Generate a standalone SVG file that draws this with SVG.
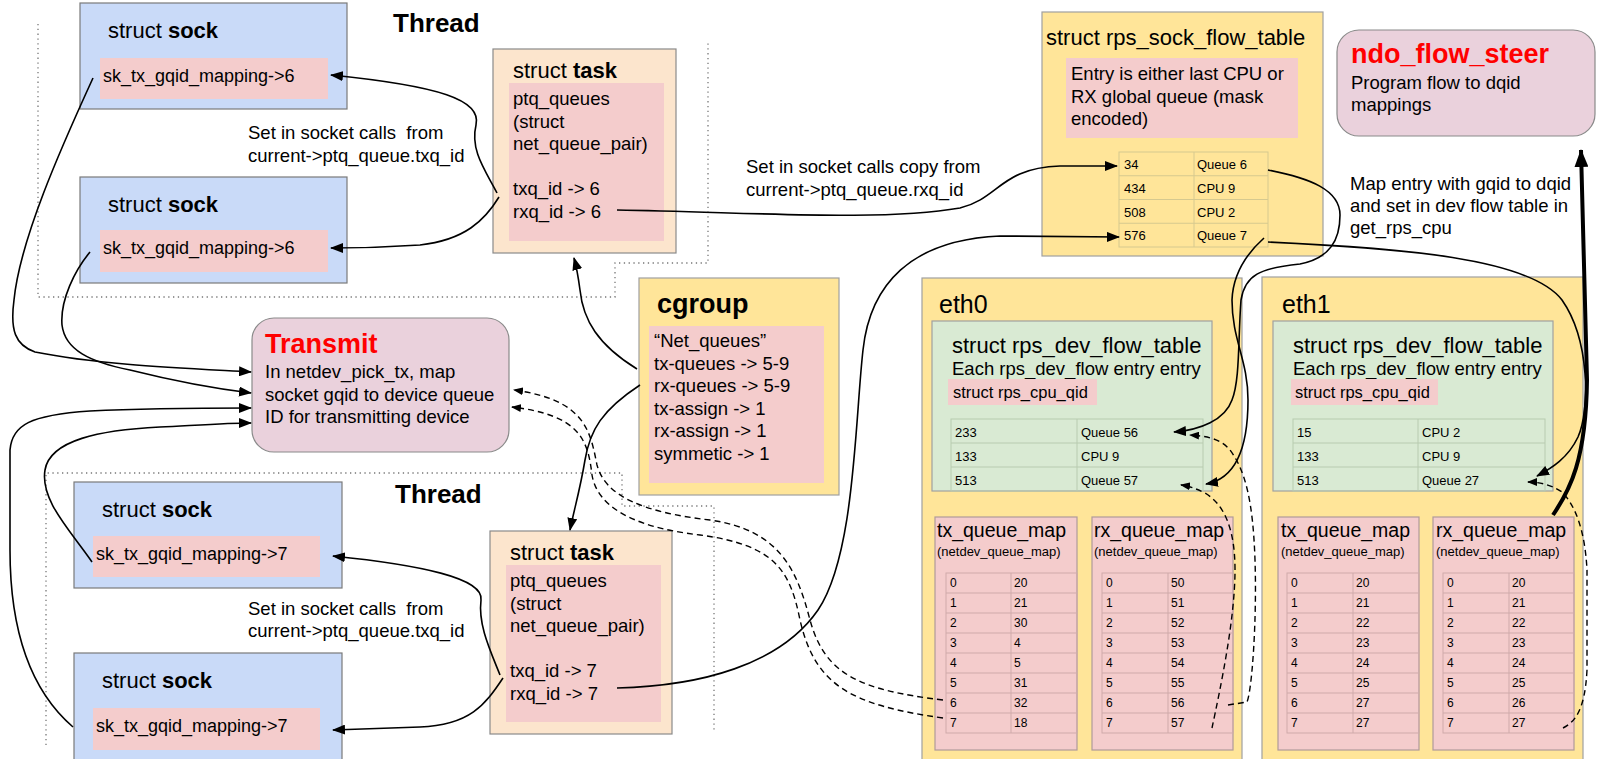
<svg xmlns="http://www.w3.org/2000/svg" width="1597" height="759" viewBox="0 0 1597 759">
<defs>
<style>
text{font-family:"Liberation Sans",Arial,sans-serif;fill:#000}
.b{font-size:18.5px}
.sk{font-size:18px}
.ttl{font-size:22px}
.bold{font-weight:bold}
.red{fill:#ff0000;font-weight:bold;font-size:27px}
.c13{font-size:13px}
.c12{font-size:12px}
.sock{fill:#c9daf8;stroke:#7a7a7a;stroke-width:1.2}
.pink{fill:#f4cccc}
.task{fill:#fce5cd;stroke:#8a8a8a;stroke-width:1.2}
.yel{fill:#ffe599;stroke:#a0a0a0;stroke-width:1.2}
.grn{fill:#d9ead3;stroke:#a0a0a0;stroke-width:1.2}
.mauve{fill:#ead1dc;stroke:#8a8a8a;stroke-width:1.2}
.map{fill:#f4cccc;stroke:#b09a9a;stroke-width:1.2}
.ty{fill:none;stroke:#d6c98f;stroke-width:1}
.tg{fill:none;stroke:#b8cbb0;stroke-width:1}
.tp{fill:none;stroke:#cfaaaa;stroke-width:1}
.dot{fill:none;stroke:#777;stroke-width:1.3;stroke-dasharray:1.3,3.5}
.ln{fill:none;stroke:#000;stroke-width:1.6}
.dash{fill:none;stroke:#000;stroke-width:1.4;stroke-dasharray:6,4}
.pre{white-space:pre}
</style>
<marker id="ah" markerUnits="userSpaceOnUse" markerWidth="13" markerHeight="10" refX="12" refY="5" orient="auto"><path d="M0,0 L13,5 L0,10 z" fill="#000"/></marker>
<marker id="ahs" markerUnits="userSpaceOnUse" markerWidth="10" markerHeight="8" refX="9" refY="4" orient="auto"><path d="M0,0 L10,4 L0,8 z" fill="#000"/></marker>
<marker id="ahb" markerUnits="userSpaceOnUse" markerWidth="18" markerHeight="14" refX="17" refY="7" orient="auto"><path d="M0,0 L18,7 L0,14 z" fill="#000"/></marker>
</defs>
<rect width="1597" height="759" fill="#fff"/>

<g id="thread-areas">
<polyline class="dot" points="38,24 38,297 615,297 615,263 708,263 708,40"/>
<polyline class="dot" points="46,745 46,473 622,473 622,506 714,506 714,730"/>
<text x="393" y="32" class="bold" font-size="26">Thread</text>
<text x="395" y="503" class="bold" font-size="26">Thread</text>
</g>

<g id="sock1">
<rect class="sock" x="80" y="3" width="267" height="106"/>
<rect class="pink" x="100" y="58" width="228" height="41"/>
<text x="108" y="38" class="ttl">struct <tspan class="bold">sock</tspan></text>
<text x="103" y="82" class="sk">sk_tx_gqid_mapping-&gt;6</text>
</g>
<g id="sock2">
<rect class="sock" x="80" y="177" width="267" height="106"/>
<rect class="pink" x="100" y="230" width="228" height="42"/>
<text x="108" y="212" class="ttl">struct <tspan class="bold">sock</tspan></text>
<text x="103" y="254" class="sk">sk_tx_gqid_mapping-&gt;6</text>
</g>
<g id="sock3">
<rect class="sock" x="74" y="482" width="268" height="106"/>
<rect class="pink" x="93" y="536" width="227" height="41"/>
<text x="102" y="517" class="ttl">struct <tspan class="bold">sock</tspan></text>
<text x="96" y="560" class="sk">sk_tx_gqid_mapping-&gt;7</text>
</g>
<g id="sock4">
<rect class="sock" x="74" y="653" width="268" height="120"/>
<rect class="pink" x="93" y="708" width="227" height="42"/>
<text x="102" y="688" class="ttl">struct <tspan class="bold">sock</tspan></text>
<text x="96" y="732" class="sk">sk_tx_gqid_mapping-&gt;7</text>
</g>

<g id="task1">
<rect class="task" x="493" y="49" width="183" height="204"/>
<rect class="pink" x="509" y="83" width="155" height="158"/>
<text x="513" y="78" class="ttl">struct <tspan class="bold">task</tspan></text>
<text class="b"><tspan x="513" y="105">ptq_queues</tspan><tspan x="513" y="127.5">(struct</tspan><tspan x="513" y="150">net_queue_pair)</tspan><tspan x="513" y="195">txq_id -&gt; 6</tspan><tspan x="513" y="217.5">rxq_id -&gt; 6</tspan></text>
</g>
<g id="task2">
<rect class="task" x="490" y="531" width="182" height="203"/>
<rect class="pink" x="506" y="565" width="155" height="157"/>
<text x="510" y="560" class="ttl">struct <tspan class="bold">task</tspan></text>
<text class="b"><tspan x="510" y="587">ptq_queues</tspan><tspan x="510" y="609.5">(struct</tspan><tspan x="510" y="632">net_queue_pair)</tspan><tspan x="510" y="677">txq_id -&gt; 7</tspan><tspan x="510" y="699.5">rxq_id -&gt; 7</tspan></text>
</g>

<g id="labels">
<text class="b pre"><tspan x="248" y="139">Set in socket calls  from</tspan><tspan x="248" y="161.5">current-&gt;ptq_queue.txq_id</tspan></text>
<text class="b pre"><tspan x="248" y="615">Set in socket calls  from</tspan><tspan x="248" y="637">current-&gt;ptq_queue.txq_id</tspan></text>
<text class="b"><tspan x="746" y="173">Set in socket calls copy from</tspan><tspan x="746" y="196">current-&gt;ptq_queue.rxq_id</tspan></text>
<text class="b"><tspan x="1350" y="190">Map entry with gqid to dqid</tspan><tspan x="1350" y="212">and set in dev flow table in</tspan><tspan x="1350" y="234">get_rps_cpu</tspan></text>
</g>

<g id="cgroup">
<rect class="yel" x="639" y="278" width="200" height="217"/>
<rect class="pink" x="649" y="326" width="175" height="157"/>
<text x="657" y="313" class="bold" font-size="27">cgroup</text>
<text class="b"><tspan x="654" y="347">“Net_queues”</tspan><tspan x="654" y="369.5">tx-queues -&gt; 5-9</tspan><tspan x="654" y="392">rx-queues -&gt; 5-9</tspan><tspan x="654" y="414.5">tx-assign -&gt; 1</tspan><tspan x="654" y="437">rx-assign -&gt; 1</tspan><tspan x="654" y="459.5">symmetic -&gt; 1</tspan></text>
</g>

<g id="transmit">
<rect class="mauve" x="252" y="318" width="257" height="134" rx="22"/>
<text x="265" y="353" class="red">Transmit</text>
<text class="b"><tspan x="265" y="378">In netdev_pick_tx, map</tspan><tspan x="265" y="400.5">socket gqid to device queue</tspan><tspan x="265" y="423">ID for transmitting device</tspan></text>
</g>

<g id="ndo_flow_steer">
<rect class="mauve" x="1337" y="30" width="258" height="106" rx="22"/>
<text x="1351" y="63" class="red">ndo_flow_steer</text>
<text class="b"><tspan x="1351" y="89">Program flow to dqid</tspan><tspan x="1351" y="111">mappings</tspan></text>
</g>

<g id="rps_sock_flow_table">
<rect class="yel" x="1042" y="12" width="281" height="244"/>
<text x="1046" y="45" class="ttl">struct rps_sock_flow_table</text>
<rect class="pink" x="1066" y="58" width="232" height="80"/>
<text class="b"><tspan x="1071" y="80">Entry is either last CPU or</tspan><tspan x="1071" y="102.5">RX global queue (mask</tspan><tspan x="1071" y="125">encoded)</tspan></text>
<rect class="ty" x="1119" y="152" width="149" height="95"/>
<path class="ty" d="M1194,152V247M1119,175.75H1268M1119,199.5H1268M1119,223.25H1268"/>
<text class="c13"><tspan x="1124" y="169">34</tspan><tspan x="1197" y="169">Queue 6</tspan><tspan x="1124" y="192.75">434</tspan><tspan x="1197" y="192.75">CPU 9</tspan><tspan x="1124" y="216.5">508</tspan><tspan x="1197" y="216.5">CPU 2</tspan><tspan x="1124" y="240.25">576</tspan><tspan x="1197" y="240.25">Queue 7</tspan></text>
</g>

<g id="eth0">
<rect class="yel" x="922" y="278" width="320" height="490"/>
<text x="939" y="313" font-size="25">eth0</text>
<rect class="grn" x="932" y="321" width="280" height="170"/>
<text x="952" y="353" class="ttl">struct rps_dev_flow_table</text>
<text x="952" y="375" class="b">Each rps_dev_flow entry entry</text>
<rect class="pink" x="948" y="379" width="149" height="26"/>
<text x="953" y="398" font-size="16.5">struct rps_cpu_qid</text>
<rect class="tg" x="951" y="419" width="252" height="72"/>
<path class="tg" d="M1077,419V491M951,443H1203M951,467H1203"/>
<text class="c13"><tspan x="955" y="437">233</tspan><tspan x="1081" y="437">Queue 56</tspan><tspan x="955" y="461">133</tspan><tspan x="1081" y="461">CPU 9</tspan><tspan x="955" y="485">513</tspan><tspan x="1081" y="485">Queue 57</tspan></text>
<g id="eth0-tx">
<rect class="map" x="935" y="517" width="142" height="233"/>
<text x="937" y="537" font-size="19.5">tx_queue_map</text>
<text x="937" y="556" class="c13">(netdev_queue_map)</text>
<rect class="tp" x="946" y="573" width="131" height="160"/>
<path class="tp" d="M1011,573V733M946,593H1077M946,613H1077M946,633H1077M946,653H1077M946,673H1077M946,693H1077M946,713H1077"/>
<text class="c12"><tspan x="950" y="587">0</tspan><tspan x="1014" y="587">20</tspan><tspan x="950" y="607">1</tspan><tspan x="1014" y="607">21</tspan><tspan x="950" y="627">2</tspan><tspan x="1014" y="627">30</tspan><tspan x="950" y="647">3</tspan><tspan x="1014" y="647">4</tspan><tspan x="950" y="667">4</tspan><tspan x="1014" y="667">5</tspan><tspan x="950" y="687">5</tspan><tspan x="1014" y="687">31</tspan><tspan x="950" y="707">6</tspan><tspan x="1014" y="707">32</tspan><tspan x="950" y="727">7</tspan><tspan x="1014" y="727">18</tspan></text>
</g>
<g id="eth0-rx">
<rect class="map" x="1092" y="517" width="141" height="233"/>
<text x="1094" y="537" font-size="19.5">rx_queue_map</text>
<text x="1094" y="556" class="c13">(netdev_queue_map)</text>
<rect class="tp" x="1102" y="573" width="131" height="160"/>
<path class="tp" d="M1168,573V733M1102,593H1233M1102,613H1233M1102,633H1233M1102,653H1233M1102,673H1233M1102,693H1233M1102,713H1233"/>
<text class="c12"><tspan x="1106" y="587">0</tspan><tspan x="1171" y="587">50</tspan><tspan x="1106" y="607">1</tspan><tspan x="1171" y="607">51</tspan><tspan x="1106" y="627">2</tspan><tspan x="1171" y="627">52</tspan><tspan x="1106" y="647">3</tspan><tspan x="1171" y="647">53</tspan><tspan x="1106" y="667">4</tspan><tspan x="1171" y="667">54</tspan><tspan x="1106" y="687">5</tspan><tspan x="1171" y="687">55</tspan><tspan x="1106" y="707">6</tspan><tspan x="1171" y="707">56</tspan><tspan x="1106" y="727">7</tspan><tspan x="1171" y="727">57</tspan></text>
</g>
</g>

<g id="eth1">
<rect class="yel" x="1262" y="277" width="321" height="491"/>
<text x="1282" y="313" font-size="25">eth1</text>
<rect class="grn" x="1273" y="321" width="280" height="170"/>
<text x="1293" y="353" class="ttl">struct rps_dev_flow_table</text>
<text x="1293" y="375" class="b">Each rps_dev_flow entry entry</text>
<rect class="pink" x="1291" y="379" width="147" height="26"/>
<text x="1295" y="398" font-size="16.5">struct rps_cpu_qid</text>
<rect class="tg" x="1293" y="419" width="252" height="72"/>
<path class="tg" d="M1418,419V491M1293,443H1545M1293,467H1545"/>
<text class="c13"><tspan x="1297" y="437">15</tspan><tspan x="1422" y="437">CPU 2</tspan><tspan x="1297" y="461">133</tspan><tspan x="1422" y="461">CPU 9</tspan><tspan x="1297" y="485">513</tspan><tspan x="1422" y="485">Queue 27</tspan></text>
<g id="eth1-tx">
<rect class="map" x="1278" y="517" width="141" height="233"/>
<text x="1281" y="537" font-size="19.5">tx_queue_map</text>
<text x="1281" y="556" class="c13">(netdev_queue_map)</text>
<rect class="tp" x="1287" y="573" width="132" height="160"/>
<path class="tp" d="M1353,573V733M1287,593H1419M1287,613H1419M1287,633H1419M1287,653H1419M1287,673H1419M1287,693H1419M1287,713H1419"/>
<text class="c12"><tspan x="1291" y="587">0</tspan><tspan x="1356" y="587">20</tspan><tspan x="1291" y="607">1</tspan><tspan x="1356" y="607">21</tspan><tspan x="1291" y="627">2</tspan><tspan x="1356" y="627">22</tspan><tspan x="1291" y="647">3</tspan><tspan x="1356" y="647">23</tspan><tspan x="1291" y="667">4</tspan><tspan x="1356" y="667">24</tspan><tspan x="1291" y="687">5</tspan><tspan x="1356" y="687">25</tspan><tspan x="1291" y="707">6</tspan><tspan x="1356" y="707">27</tspan><tspan x="1291" y="727">7</tspan><tspan x="1356" y="727">27</tspan></text>
</g>
<g id="eth1-rx">
<rect class="map" x="1433" y="517" width="141" height="233"/>
<text x="1436" y="537" font-size="19.5">rx_queue_map</text>
<text x="1436" y="556" class="c13">(netdev_queue_map)</text>
<rect class="tp" x="1443" y="573" width="131" height="160"/>
<path class="tp" d="M1509,573V733M1443,593H1574M1443,613H1574M1443,633H1574M1443,653H1574M1443,673H1574M1443,693H1574M1443,713H1574"/>
<text class="c12"><tspan x="1447" y="587">0</tspan><tspan x="1512" y="587">20</tspan><tspan x="1447" y="607">1</tspan><tspan x="1512" y="607">21</tspan><tspan x="1447" y="627">2</tspan><tspan x="1512" y="627">22</tspan><tspan x="1447" y="647">3</tspan><tspan x="1512" y="647">23</tspan><tspan x="1447" y="667">4</tspan><tspan x="1512" y="667">24</tspan><tspan x="1447" y="687">5</tspan><tspan x="1512" y="687">25</tspan><tspan x="1447" y="707">6</tspan><tspan x="1512" y="707">26</tspan><tspan x="1447" y="727">7</tspan><tspan x="1512" y="727">27</tspan></text>
</g>
</g>

<g id="connectors">
<path class="ln" marker-end="url(#ah)" d="M497,193 C485,170 470,150 476,125 C482,100 440,86 331,75"/>
<path class="ln" marker-end="url(#ah)" d="M499,197 C485,220 465,240 420,245 C390,247 360,248 331,248"/>
<path class="ln" marker-end="url(#ah)" d="M617,210 C750,212 880,222 960,208 C1000,198 1000,168 1060,166 L1117,166"/>
<path class="ln" marker-end="url(#ah)" d="M637,369 C598,345 583,320 580,290 C578,275 576,265 574,258"/>
<path class="ln" marker-end="url(#ah)" d="M640,385 C602,410 590,430 585,460 C580,490 574,510 570,530"/>
<path class="ln" marker-end="url(#ah)" d="M617,688 C700,686 780,665 818,610 C855,555 855,420 863,350 C870,285 910,240 1000,236 L1119,237"/>
<path class="ln" marker-end="url(#ah)" d="M1268,170 C1310,178 1340,190 1340,215 C1340,240 1330,258 1300,264 C1260,268 1245,275 1241,300 C1238,340 1240,380 1232,400 C1225,420 1200,430 1174,432"/>
<path class="ln" marker-end="url(#ah)" d="M1264,238 C1245,255 1233,275 1232,300 C1232,340 1248,360 1248,400 C1248,440 1240,478 1206,484"/>
<path class="ln" marker-end="url(#ah)" d="M1268,242 C1400,248 1530,258 1562,300 C1590,340 1590,410 1578,437 C1568,458 1552,468 1537,476"/>
<path fill="none" stroke="#000" stroke-width="4" marker-end="url(#ahb)" d="M1553,515 C1570,490 1586,460 1587,380 L1581,150"/>
<path class="ln" marker-end="url(#ah)" d="M93,78 C60,150 20,240 14,300 C10,330 15,345 35,352 C100,365 180,368 251,372"/>
<path class="ln" marker-end="url(#ah)" d="M90,252 C75,270 60,300 62,325 C65,350 90,362 130,370 C170,380 210,388 251,393"/>
<path class="ln" marker-end="url(#ah)" d="M92,562 C70,530 40,500 45,470 C50,440 100,430 160,427 C200,425 230,423 251,423"/>
<path class="ln" marker-end="url(#ah)" d="M73,727 C30,690 10,630 10,550 L10,450 C12,425 30,415 90,411 C150,408 210,408 251,408"/>
<path class="ln" marker-end="url(#ah)" d="M500,675 C490,650 478,625 481,600 C484,578 420,565 333,556"/>
<path class="ln" marker-end="url(#ah)" d="M503,678 C485,705 470,725 420,727 L333,730"/>
<path class="dash" marker-end="url(#ahs)" d="M943,700 C860,690 825,675 810,620 C797,570 780,530 710,520 C640,512 605,495 597,465 C590,430 585,400 514,390"/>
<path class="dash" marker-end="url(#ahs)" d="M943,718 C850,705 815,685 800,620 C790,570 775,545 700,535 C630,527 597,505 592,475 C588,440 580,415 512,407"/>
<path class="dash" marker-end="url(#ahs)" d="M1228,705 L1247,702 C1252,690 1257,620 1255,560 C1253,500 1245,470 1230,450 C1220,438 1205,436 1190,435"/>
<path class="dash" marker-end="url(#ahs)" d="M1212,728 C1220,690 1235,620 1235,570 C1235,530 1225,505 1205,493 C1195,488 1188,486 1181,485"/>
<path class="dash" marker-end="url(#ahs)" d="M1563,728 C1575,722 1585,710 1587,670 L1587,570 C1585,530 1575,505 1562,492 C1550,484 1538,482 1528,482"/>
</g>
</svg>
